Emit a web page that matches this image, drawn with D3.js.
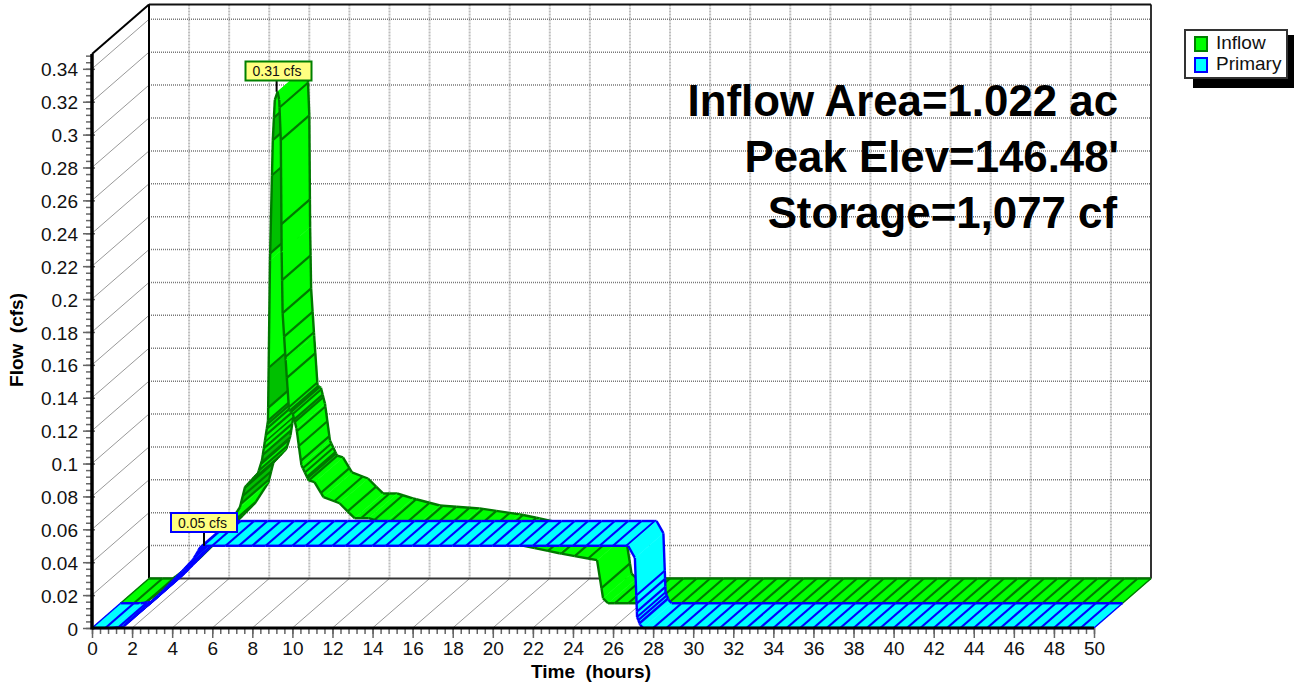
<!DOCTYPE html>
<html>
<head>
<meta charset="utf-8">
<script src="https://cdn.jsdelivr.net/npm/d3@7"></script>
<style>
  html, body { margin: 0; padding: 0; background: #fff; }
  svg { display: block; font-family: "Liberation Sans", Arial, sans-serif; }
</style>
</head>
<body>
<div id="chart"></div>
<script>
// values
const inflowHours = [0, 1.2, 2.5, 4, 5.3, 5.96, 6.21, 6.86, 7.06, 7.21, 7.36, 7.46, 7.6, 7.7, 7.84, 7.92, 8, 8.04, 8.09, 8.24, 8.41, 8.58, 8.78, 9.03, 9.38, 9.68, 10.13, 10.93, 11.68, 12.38, 13.17, 14.52, 16.5, 18.5, 19.5, 21.9, 23.78, 24.08, 24.33, 50];
const inflowFlow = [0, 0, 0.012, 0.03, 0.046, 0.0584, 0.0706, 0.079, 0.087, 0.099, 0.111, 0.2086, 0.2816, 0.306, 0.311, 0.306, 0.2816, 0.2135, 0.1764, 0.1478, 0.1174, 0.116, 0.1064, 0.0839, 0.0748, 0.0736, 0.0645, 0.0608, 0.0517, 0.0517, 0.0487, 0.0444, 0.0426, 0.039, 0.0365, 0.0304, 0.0262, 0.003, 0, 0];
const primaryHours = [0, 1, 1.55, 2.5, 3.04, 3.54, 4.5, 5.04, 5.4, 5.64, 26.75, 27.09, 27.2, 27.35, 27.5, 50];
const primaryFlow = [0, 0, 0.0008, 0.011, 0.0165, 0.0225, 0.0345, 0.0415, 0.049, 0.05, 0.05, 0.0426, 0.0067, 0.002, 0, 0];
// extra cross lines where the ribbons change fast
const inflowDenseHours = [6, 6.1, 6.2, 6.3, 6.4, 6.5, 6.6, 6.7, 6.8, 6.9, 7, 7.05, 7.1, 7.15, 7.2, 7.25, 7.3, 7.36, 7.368, 7.393, 7.468, 7.559, 7.6, 7.656, 7.935, 8, 8.03, 8.063, 8.09, 8.165, 8.23, 8.3, 8.4, 8.45, 8.5, 8.55, 8.6, 8.7, 8.8, 8.9, 9, 9.1, 9.2, 9.3, 9.4];
const primaryDenseHours = [1.6, 1.8, 2, 2.2, 2.4, 2.6, 2.8, 3, 3.2, 3.4, 3.6, 3.8, 4, 4.2, 4.4, 4.6, 4.8, 5, 5.1, 5.2, 5.3, 5.4, 5.5, 27.16, 27.175, 27.19, 27.2, 27.26, 27.32];
// rising stretches drawn in the darker green
const inflowDarkSpans = [[7.368, 7.393], [7.468, 7.559], [7.6, 7.656], [7.0, 7.1], [6.4, 6.6], [6.0, 6.2]];

const hourTicks = [0, 2, 4, 6, 8, 10, 12, 14, 16, 18, 20, 22, 24, 26, 28, 30, 32, 34, 36, 38, 40, 42, 44, 46, 48, 50];
const flowTicks = [0, 0.02, 0.04, 0.06, 0.08, 0.1, 0.12, 0.14, 0.16, 0.18, 0.2, 0.22, 0.24, 0.26, 0.28, 0.3, 0.32, 0.34];
const notes = ['Inflow Area=1.022 ac', 'Peak Elev=146.48\'', 'Storage=1,077 cf'];
const noteRight = [1118, 1119, 1117];
const noteBase = [116, 172, 228];
const legendNames = ['Inflow', 'Primary'];

const x = d3.scaleLinear().domain([0, 50]).range([92, 1094]);
const y = d3.scaleLinear().domain([0, 0.349]).range([628, 54]);
// depth runs from the front plane (0) to the back wall (1)
const depthX = d3.scaleLinear().domain([0, 1]).range([0, 57]);
const depthY = d3.scaleLinear().domain([0, 1]).range([0, -49.5]);
const px = (t, z) => x(t) + depthX(z);
const py = (q, z) => y(q) + depthY(z);

const svg = d3.select('#chart').append('svg').attr('width', 1294).attr('height', 684);

// back wall grid
const wall = svg.append('g');
wall.selectAll('line.v').data(hourTicks.slice(1)).join('line')
  .attr('x1', d => px(d, 1)).attr('x2', d => px(d, 1))
  .attr('y1', py(0.349, 1)).attr('y2', py(0, 1))
  .attr('stroke', '#bdbdbd').attr('stroke-width', 2).attr('stroke-dasharray', '2 1');
wall.selectAll('line.h').data(flowTicks.slice(1)).join('line')
  .attr('x1', px(0, 1)).attr('x2', px(50, 1))
  .attr('y1', d => py(d, 1)).attr('y2', d => py(d, 1))
  .attr('stroke', '#777').attr('stroke-width', 1.5).attr('stroke-dasharray', '1 1');

// side wall and floor lines
wall.selectAll('line.side').data(flowTicks.slice(1)).join('line')
  .attr('x1', px(0, 0)).attr('x2', px(0, 1))
  .attr('y1', d => py(d, 0)).attr('y2', d => py(d, 1))
  .attr('stroke', '#999').attr('stroke-width', 1);
wall.selectAll('line.floor').data(hourTicks.slice(1, -1)).join('line')
  .attr('x1', d => px(d, 0)).attr('x2', d => px(d, 1))
  .attr('y1', py(0, 0)).attr('y2', py(0, 1))
  .attr('stroke', '#999').attr('stroke-width', 1);

// frame
const frameLine = (x1, y1, x2, y2, color, width) => svg.append('line')
  .attr('x1', x1).attr('y1', y1).attr('x2', x2).attr('y2', y2)
  .attr('stroke', color).attr('stroke-width', width);
frameLine(px(0, 1), py(0, 1), px(50, 1), py(0, 1), '#333', 2);
frameLine(px(50, 1), py(0.349, 1), px(50, 1), py(0, 1), '#333', 2);
frameLine(px(0, 1), py(0.349, 1), px(50, 1), py(0.349, 1), '#111', 2);
frameLine(px(0, 1), py(0.349, 1), px(0, 1), py(0, 1), '#000', 2);
frameLine(px(0, 0), py(0.349, 0), px(0, 1), py(0.349, 1), '#000', 2);

// one ribbon between two depths, painted quad by quad in time order
function drawRibbon(hours, flow, denseHours, z0, z1, fill, stroke, darkSpans) {
  const flowAt = d3.scaleLinear().domain(hours).range(flow);
  const evenHours = d3.range(0, 50.01, 2 / 3);
  const times = Array.from(new Set([...hours, ...denseHours, ...evenHours])).sort(d3.ascending);
  const crossLines = new Set([...denseHours, ...evenHours]);
  const quads = d3.pairs(times);
  const line = d3.line();
  const g = svg.append('g');

  quads.forEach(([a, b]) => {
    const qa = flowAt(a);
    const qb = flowAt(b);
    const mid = (a + b) / 2;
    const dark = darkSpans.some(s => mid >= s[0] && mid <= s[1]);
    const front = [[px(a, z0), py(qa, z0)], [px(b, z0), py(qb, z0)]];
    const back = [[px(b, z1), py(qb, z1)], [px(a, z1), py(qa, z1)]];
    g.append('path')
      .attr('d', line([...front, ...back]) + 'Z')
      .attr('fill', dark ? '#00c000' : fill)
      .attr('stroke', dark ? '#00c000' : fill).attr('stroke-width', 0.5);
    g.append('path').attr('d', line(front))
      .attr('fill', 'none').attr('stroke', stroke).attr('stroke-width', 2.4);
    g.append('path').attr('d', line(back))
      .attr('fill', 'none').attr('stroke', stroke).attr('stroke-width', 2.4);
    if (crossLines.has(a) && a > 0) {
      g.append('path').attr('d', line([[px(a, z0), py(qa, z0)], [px(a, z1), py(qa, z1)]]))
        .attr('fill', 'none').attr('stroke', stroke).attr('stroke-width', 2.2);
    }
  });
  // closing edges at both ends
  [0, 50].forEach(t => {
    g.append('path').attr('d', line([[px(t, z0), py(flowAt(t), z0)], [px(t, z1), py(flowAt(t), z1)]]))
      .attr('fill', 'none').attr('stroke', stroke).attr('stroke-width', 1.5);
  });
}

drawRibbon(inflowHours, inflowFlow, inflowDenseHours, 0.5, 1, '#00ff00', '#007800', inflowDarkSpans);
drawRibbon(primaryHours, primaryFlow, primaryDenseHours, 0, 0.5, '#00ffff', '#0000ff', []);

// axes
const minorHours = d3.range(0, 50.01, 0.4);
const minorFlows = d3.range(0, 0.3481, 0.004);

const yAxisMinor = svg.append('g').attr('transform', `translate(${px(0, 0)},0)`)
  .call(d3.axisLeft(y).tickValues(minorFlows).tickSize(6).tickFormat(''));
const yAxis = svg.append('g').attr('transform', `translate(${px(0, 0)},0)`)
  .call(d3.axisLeft(y).tickValues(flowTicks).tickSize(9).tickPadding(5).tickFormat(d => String(d)));
const xAxisMinor = svg.append('g').attr('transform', `translate(0,${py(0, 0)})`)
  .call(d3.axisBottom(x).tickValues(minorHours).tickSize(6).tickFormat(''));
const xAxis = svg.append('g').attr('transform', `translate(0,${py(0, 0)})`)
  .call(d3.axisBottom(x).tickValues(hourTicks).tickSize(10).tickPadding(4).tickFormat(d => String(d)));

[yAxisMinor, yAxis, xAxisMinor, xAxis].forEach(a => {
  a.select('.domain').remove();
  a.selectAll('.tick line').attr('stroke', '#666').attr('stroke-width', 1.5);
  a.selectAll('text').attr('font-family', '"Liberation Sans", Arial, sans-serif')
    .attr('font-size', 19).attr('fill', '#111');
});
yAxis.selectAll('.tick line').attr('x1', 3);
yAxis.selectAll('text').attr('y', 1);

frameLine(px(0, 0), py(0.349, 0), px(0, 0), py(0, 0) + 1.5, '#000', 3.5);
frameLine(px(0, 0), py(0, 0), px(50, 0), py(0, 0), '#000', 3);

// axis titles
svg.append('text').attr('x', 591).attr('y', 678).attr('text-anchor', 'middle')
  .attr('font-size', 19).attr('font-weight', 'bold').style('white-space', 'pre').text('Time  (hours)');
svg.append('text').attr('transform', 'translate(23,340) rotate(-90)').attr('text-anchor', 'middle')
  .attr('font-size', 19).attr('font-weight', 'bold').style('white-space', 'pre').text('Flow  (cfs)');

// big notes on the wall
svg.selectAll('text.note').data(notes).join('text').attr('class', 'note')
  .attr('x', (d, i) => noteRight[i]).attr('y', (d, i) => noteBase[i])
  .attr('text-anchor', 'end').attr('font-size', 43.8).attr('font-weight', 'bold').attr('fill', '#000')
  .text(d => d);

// peak labels
function peakLabel(hours, flow, z, stroke, text, boxX, boxY) {
  const peak = d3.max(flow);
  const t = hours[flow.indexOf(peak)];
  const sx = px(t, z) - 1;
  const sy = py(peak, z);
  svg.append('line').attr('x1', sx).attr('x2', sx).attr('y1', boxY + 18).attr('y2', sy)
    .attr('stroke', '#000').attr('stroke-width', 2);
  svg.append('rect').attr('x', boxX).attr('y', boxY).attr('width', 66).attr('height', 19)
    .attr('fill', '#ffff80').attr('stroke', stroke).attr('stroke-width', 2);
  svg.append('text').attr('x', boxX + 31.5).attr('y', boxY + 14.5).attr('text-anchor', 'middle')
    .attr('font-size', 14).attr('fill', '#111').text(text);
}
peakLabel(inflowHours, inflowFlow, 0.5, '#008000', '0.31 cfs', 245.5, 61.5);
peakLabel(primaryHours, primaryFlow, 0, '#0000ff', '0.05 cfs', 171, 513);

// legend
svg.append('rect').attr('x', 1193).attr('y', 35).attr('width', 101).attr('height', 53).attr('fill', '#000');
svg.append('rect').attr('x', 1185).attr('y', 30).attr('width', 102).attr('height', 48)
  .attr('fill', '#fff').attr('stroke', '#333').attr('stroke-width', 2);
const legendFill = ['#00ff00', '#00ffff'];
const legendStroke = ['#008000', '#0000ff'];
const legendRow = d3.scaleLinear().domain([0, 1]).range([37, 58]);
svg.selectAll('rect.key').data(legendNames).join('rect').attr('class', 'key')
  .attr('x', 1195).attr('y', (d, i) => legendRow(i)).attr('width', 12).attr('height', 14)
  .attr('fill', (d, i) => legendFill[i]).attr('stroke', (d, i) => legendStroke[i]).attr('stroke-width', 2);
svg.selectAll('text.key').data(legendNames).join('text').attr('class', 'key')
  .attr('x', 1216).attr('y', (d, i) => legendRow(i) + 12).attr('font-size', 19).attr('fill', '#111')
  .text(d => d);
</script>
</body>
</html>
